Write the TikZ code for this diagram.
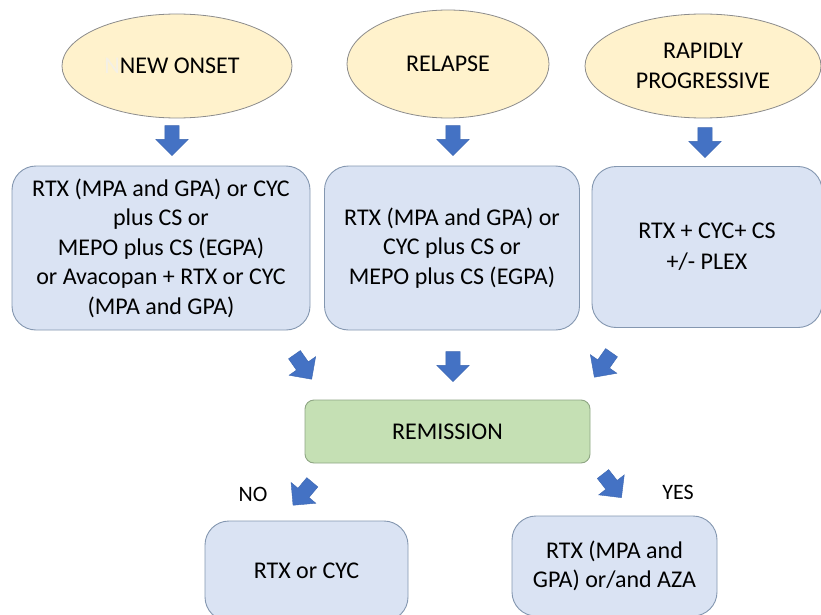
\documentclass[tikz,border=0pt]{standalone}
\usepackage{fontspec}
\setmainfont{Carlito}
\usetikzlibrary{shapes.geometric,shapes.arrows}
\definecolor{ellfill}{HTML}{FFF2CC}
\definecolor{elldraw}{HTML}{8C8C8C}
\definecolor{boxfill}{HTML}{DAE3F3}
\definecolor{boxdraw}{HTML}{8497B0}
\definecolor{remfill}{HTML}{C5E0B4}
\definecolor{remdraw}{HTML}{8FA684}
\definecolor{arrfill}{HTML}{4472C4}
\definecolor{arrdraw}{HTML}{3C66B0}
\definecolor{ghost}{HTML}{F4F0E6}
\tikzset{
  txt/.style={font=\fontsize{24}{29.5}\selectfont, align=center, text=black},
  oval/.style={ellipse, draw=elldraw, fill=ellfill, line width=0.8pt, txt, inner sep=0pt},
  treat/.style={rectangle, rounded corners=24pt, draw=boxdraw, fill=boxfill, line width=0.9pt, txt, inner sep=0pt},
  rem/.style={rectangle, rounded corners=9pt, draw=remdraw, fill=remfill, line width=0.9pt, txt, inner sep=0pt},
  barrow/.style={single arrow, draw=arrdraw, fill=arrfill, line width=0.4pt, inner sep=7pt,
    minimum height=30pt, minimum width=32pt, single arrow head extend=9pt, anchor=center},
  lbl/.style={txt, font=\fontsize{22}{26}\selectfont}
}
\begin{document}
\begin{tikzpicture}[x=1pt,y=-1pt]
\useasboundingbox (0,0) rectangle (821,615);
\clip (0,0) rectangle (821,615);
\fill[white] (0,0) rectangle (821,615);
% top ellipses
\node[oval, minimum width=230, minimum height=104] (onset) at (177,66) {};
\node[txt] (onsett) at (172,66) {\textcolor{ghost}{N}NEW ONSET};
\node[oval, minimum width=202, minimum height=108] (relapse) at (448,64) {RELAPSE};
\node[oval, minimum width=236, minimum height=104] (rapid) at (703,66) {RAPIDLY\\PROGRESSIVE};
% down arrows
\node[barrow, rotate=-90] (a1) at (172,137) {};
\node[barrow, rotate=-90] (a2) at (453,137) {};
\node[barrow, rotate=-90] (a3) at (705,139) {};
% treatment boxes
\node[treat, minimum width=298, minimum height=164] (t1) at (161,248)
  {RTX (MPA and GPA) or CYC\\plus CS or\\MEPO plus CS (EGPA)\\or Avacopan + RTX or CYC\\(MPA and GPA)};
\node[treat, minimum width=255, minimum height=164] (t2) at (452,248)
  {RTX (MPA and GPA) or\\CYC plus CS or\\MEPO plus CS (EGPA)};
\node[treat, minimum width=230, minimum height=161, font=\fontsize{24}{31}\selectfont] (t3) at (707,247)
  {RTX + CYC+ CS\\+/- PLEX};
% diagonal arrows
\node[barrow, rotate=-55] (d1) at (301,364) {};
\node[barrow, rotate=-90] (d2) at (453,363) {};
\node[barrow, rotate=-125] (d3) at (605,362) {};
% remission
\node[rem, minimum width=285, minimum height=63] (rem) at (447.5,431.5) {REMISSION};
% no / yes
\node[barrow, rotate=-130] (no) at (305,491) {};
\node[barrow, rotate=-52] (yes) at (610,483) {};
\node[lbl] (nol) at (253,494) {NO};
\node[lbl] (yesl) at (678,492) {YES};
% bottom boxes
\node[treat, minimum width=203, minimum height=100] (b1) at (306.5,571) {RTX or CYC};
\node[treat, minimum width=205, minimum height=100] (b2) at (614.5,566) {RTX (MPA and\\GPA) or/and AZA};
\end{tikzpicture}
\end{document}
